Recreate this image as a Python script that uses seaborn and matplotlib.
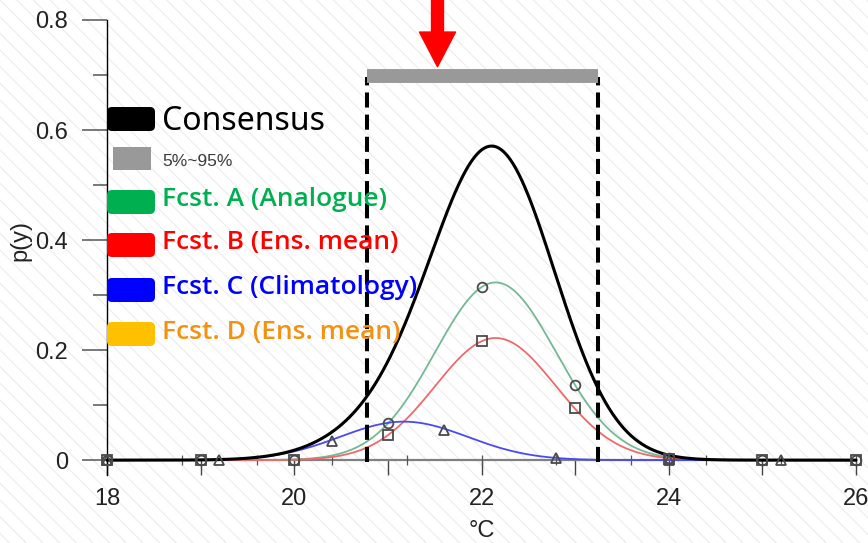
"""
Consensus forecast PDF with its members, 5%~95% range and legend.
"""

import numpy as np
import pandas as pd
import seaborn as sns
import matplotlib.pyplot as plt
from matplotlib.patches import Rectangle, FancyBboxPatch
from matplotlib.transforms import IdentityTransform

# gaussian members: peak height, mean, spread
fcst_names = ["A", "B", "C"]
fcst_peak = [0.323, 0.222, 0.070]
fcst_mean = [22.15, 22.15, 21.17]
fcst_sd = [0.647, 0.645, 0.68]
fcst_line_colors = ["#74b896", "#ee6a6a", "#4a4af2"]

# sampled points shown with markers
mark_a_x = [18, 19, 20, 21, 22, 23, 24, 25, 26]
mark_a_y = [0, 0, 0.001, 0.067, 0.315, 0.136, 0.003, 0, 0]
mark_b_x = [18, 19, 20, 21, 22, 23, 24, 25, 26]
mark_b_y = [0, 0, 0, 0.045, 0.216, 0.094, 0.002, 0, 0]
mark_c_x = [18, 19.2, 20.4, 21.6, 22.8, 24.0, 25.2]
mark_c_y = [0, 0, 0.035, 0.055, 0.003, 0, 0]

# 5%~95% interval and arrow
interval = [20.78, 23.24]
bar_y = 0.698
arrow_x = 21.53
arrow_tip = 0.715

x_major = [18, 20, 22, 24, 26]
x_minor = [19, 21, 23, 25]
x_cross = [18.8, 19.6, 20.4, 21.2, 22.0, 22.8, 23.6, 24.4, 25.2, 26.0]
y_major = [0, 0.2, 0.4, 0.6, 0.8]
y_labels = ["0", "0.2", "0.4", "0.6", "0.8"]
y_minor = [0.1, 0.3, 0.5, 0.7]

legend_labels = ["Consensus", "5%~95%", "Fcst. A (Analogue)", "Fcst. B (Ens. mean)",
                 "Fcst. C (Climatology)", "Fcst. D (Ens. mean)"]
legend_box_colors = ["black", "#999999", "#00b050", "#ff0000", "#0000ff", "#ffc000"]
legend_text_colors = ["black", "#3a3a3a", "#00b050", "#ff0000", "#0000ff", "#f39212"]

sns.set_style("white")
plt.rcParams["font.family"] = ["Liberation Sans Narrow", "Liberation Sans", "DejaVu Sans"]

W, H = 868, 543
fig = plt.figure(figsize=(W / 100, H / 100), dpi=100)
fig.patch.set_facecolor("white")
# faint diagonal stripes of the background
fig.patches.append(Rectangle((0, 0), 1, 1, transform=fig.transFigure, facecolor="white",
                             edgecolor="#efefef", hatch="\\\\", lw=0, zorder=-10))

ax = fig.add_axes([107 / W, (H - 475) / H, 749 / W, 455 / H])
ax.set_facecolor("none")

# curves
xs = np.linspace(18, 26, 801)
frames = []
for name, pk, mu, sd in zip(fcst_names, fcst_peak, fcst_mean, fcst_sd):
    frames.append(pd.DataFrame({"x": xs, "p": pk * np.exp(-0.5 * ((xs - mu) / sd) ** 2), "fcst": name}))
df = pd.concat(frames)
cons = df.groupby("x", as_index=False)["p"].sum()

sns.lineplot(data=df, x="x", y="p", hue="fcst", palette=dict(zip(fcst_names, fcst_line_colors)),
             lw=1.3, legend=False, ax=ax, zorder=3)
sns.lineplot(data=cons, x="x", y="p", color="black", lw=2.2, ax=ax, zorder=4)
for ln in ax.lines:
    ln.set_clip_on(False)

# markers
mk = dict(mfc="none", mec="#4a4a4a", mew=1.3, ls="none", clip_on=False, zorder=5)
ax.plot(mark_a_x, mark_a_y, "o", ms=7, **mk)
ax.plot(mark_b_x, mark_b_y, "s", ms=7.5, **mk)
ax.plot(mark_c_x, mark_c_y, "^", ms=6.5, **mk)

# cross ticks along the zero line
ax.plot(x_cross, np.zeros(len(x_cross)), "|", ms=7, mew=0.9, color="#555555", clip_on=False, zorder=2)

# interval
ax.vlines(interval, -0.004, bar_y - 0.002, colors="black", lw=2.9, linestyles=(0, (3.75, 1.75)), zorder=6)
ax.plot(interval, [bar_y, bar_y], color="#999999", lw=10, solid_capstyle="butt", zorder=6)
ax.annotate("", xy=(arrow_x, arrow_tip), xytext=(arrow_x, 0.845), annotation_clip=False,
            arrowprops=dict(arrowstyle="simple,head_length=25,head_width=26,tail_width=8.6",
                            mutation_scale=1, color="red", shrinkA=0, shrinkB=0))

# axes
ax.set_xlim(18, 26)
ax.set_ylim(-0.027, 0.8)
for s in ["top", "right"]:
    ax.spines[s].set_visible(False)
ax.spines["left"].set_color("black")
ax.spines["left"].set_linewidth(1)
ax.spines["bottom"].set_position(("data", 0))
ax.spines["bottom"].set_color("#808080")
ax.spines["bottom"].set_linewidth(1.6)
ax.spines["bottom"].set_zorder(1)

ax.set_xticks(x_major)
ax.set_xticklabels([str(v) for v in x_major])
ax.set_xticks(x_minor, minor=True)
ax.set_yticks(y_major)
ax.set_yticklabels(y_labels)
ax.set_yticks(y_minor, minor=True)
ax.tick_params(axis="x", which="both", bottom=True, direction="out", length=11, width=1,
               color="#444444", pad=9, labelsize=17, labelcolor="#222222")
ax.tick_params(axis="y", which="major", left=True, direction="out", length=18, width=1.1,
               color="#555555", pad=10, labelsize=17, labelcolor="#222222")
ax.tick_params(axis="y", which="minor", left=True, direction="out", length=10, width=1.1,
               color="#555555")

ax.set_xlabel("°C", fontsize=17, color="#222222")
ax.xaxis.set_label_coords(0.5, -0.098)
ax.xaxis.label.set_va("top")
ax.set_ylabel("p(y)", fontsize=17, color="#222222")
ax.yaxis.set_label_coords(-0.116, 0.516)
ax.yaxis.label.set_va("center")

# legend drawn by hand in pixel coordinates
px = IdentityTransform()
box_top = [107, 147, 190, 233, 278, 322]
baselines = [130, 166, 206, 249, 294, 339]
for i, (lab, bc, tc) in enumerate(zip(legend_labels, legend_box_colors, legend_text_colors)):
    if i == 1:
        fig.patches.append(Rectangle((113, H - 170), 38, 23, transform=px, facecolor=bc, lw=0))
        fig.text(162 / W, (H - baselines[i]) / H, lab, color=tc, fontsize=12.5, va="baseline",
                 family=["Liberation Sans Narrow", "Liberation Sans"])
        continue
    fig.patches.append(FancyBboxPatch((107, H - box_top[i] - 24), 48, 24, transform=px,
                                      boxstyle="round,pad=0,rounding_size=5", facecolor=bc, lw=0))
    if i == 0:
        fig.text(162 / W, (H - baselines[i]) / H, lab, color=tc, fontsize=23, va="baseline",
                 family=["Noto Sans", "DejaVu Sans"])
    else:
        fig.text(162 / W, (H - baselines[i]) / H, lab, color=tc, fontsize=19, va="baseline",
                 family=["Open Sans", "DejaVu Sans"], fontweight="semibold")

fig.savefig("out.png", dpi=100)
